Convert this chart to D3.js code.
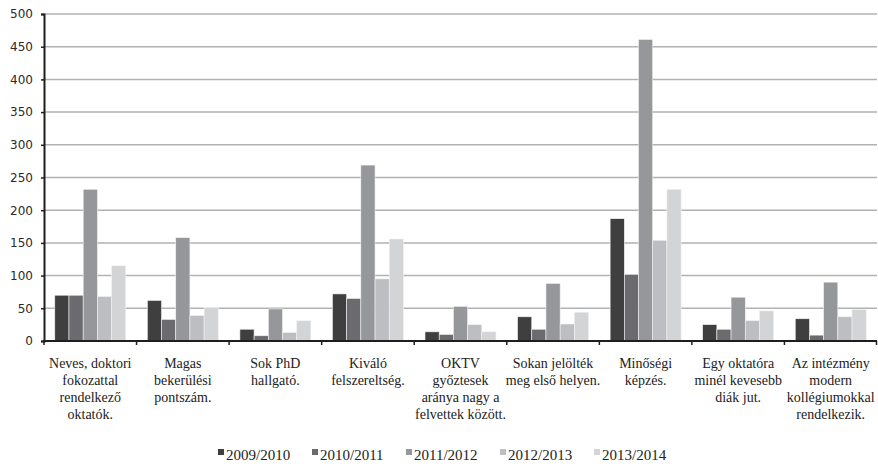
<!DOCTYPE html>
<html>
<head>
<meta charset="utf-8">
<script src="https://cdn.jsdelivr.net/npm/d3@7"></script>
<style>
  body { margin: 0; background: #fff; }
  svg { display: block; }
</style>
</head>
<body>
<div id="chart"></div>
<script>
// categories (multi-line labels as in the original)
const categories = [
    ["Neves, doktori", "fokozattal", "rendelkező", "oktatók."],
    ["Magas", "bekerülési", "pontszám."],
    ["Sok PhD", "hallgató."],
    ["Kiváló", "felszereltség."],
    ["OKTV", "győztesek", "aránya nagy a", "felvettek között."],
    ["Sokan jelölték", "meg első helyen."],
    ["Minőségi", "képzés."],
    ["Egy oktatóra", "minél kevesebb", "diák jut."],
    ["Az intézmény", "modern", "kollégiumokkal", "rendelkezik."]
];
const seriesNames = ["2009/2010", "2010/2011", "2011/2012", "2012/2013", "2013/2014"];
const seriesColors = ["#3f3f40", "#6b6b6f", "#96979b", "#bdbec2", "#d3d4d6"];

const v2009 = [70, 62, 18, 72, 14, 37, 187, 25, 34];
const v2010 = [70, 33, 8, 65, 10, 18, 102, 18, 9];
const v2011 = [232, 158, 49, 269, 53, 88, 461, 67, 90];
const v2012 = [68, 39, 13, 95, 25, 26, 154, 31, 37];
const v2013 = [115, 51, 31, 156, 14, 44, 232, 46, 48];
const allSeries = [v2009, v2010, v2011, v2012, v2013];

const yTicks = [0, 50, 100, 150, 200, 250, 300, 350, 400, 450, 500];

const width = 878, height = 464;
const margin = {top: 14, right: 1, bottom: 123, left: 44};

const svg = d3.select("#chart")
    .append("svg")
    .attr("width", width)
    .attr("height", height);

const catIdx = d3.range(categories.length);

const x0 = d3.scaleBand()
    .domain(catIdx)
    .range([margin.left, width - margin.right])
    .padding(0);

const x1 = d3.scaleBand()
    .domain(d3.range(seriesNames.length))
    .range([0, x0.bandwidth()])
    .paddingInner(0)
    .paddingOuter(0.76);

const y = d3.scaleLinear()
    .domain([0, 500])
    .range([height - margin.bottom, margin.top]);

// gridlines
svg.append("g")
    .attr("class", "grid")
    .selectAll("line")
    .data(yTicks.filter(d => d > 0))
    .enter().append("line")
    .attr("x1", margin.left)
    .attr("x2", width - margin.right)
    .attr("y1", d => y(d))
    .attr("y2", d => y(d))
    .style("stroke", "#b2b2b2")
    .style("stroke-width", 1.5);

// bars
const groups = svg.append("g")
    .attr("class", "bars")
    .selectAll("g")
    .data(catIdx)
    .enter().append("g")
    .attr("transform", i => "translate(" + x0(i) + ",0)");

groups.selectAll("rect")
    .data(i => allSeries.map((s, k) => ({k: k, value: s[i]})))
    .enter().append("rect")
    .attr("x", d => x1(d.k))
    .attr("width", x1.bandwidth())
    .attr("y", d => y(d.value))
    .attr("height", d => y(0) - y(d.value))
    .style("fill", d => seriesColors[d.k])
    .style("stroke", "#f2f2f2")
    .style("stroke-width", 0.6);

// y axis
const yAxis = svg.append("g")
    .attr("transform", "translate(" + margin.left + ",0)")
    .call(d3.axisLeft(y).tickValues(yTicks).tickSize(3).tickPadding(8));
yAxis.select(".domain").style("stroke", "#1e1e1e").style("stroke-width", 2);
yAxis.selectAll(".tick line").style("stroke", "#1e1e1e").style("stroke-width", 1.5);
yAxis.selectAll(".tick text")
    .style("font-family", "'DejaVu Sans', sans-serif")
    .style("font-size", "12px")
    .style("fill", "#2a2a2a");

// x axis: line with ticks at category boundaries
const xAxis = svg.append("g").attr("class", "x-axis");
xAxis.append("line")
    .attr("x1", margin.left - 1)
    .attr("x2", width - margin.right)
    .attr("y1", y(0))
    .attr("y2", y(0))
    .style("stroke", "#1e1e1e")
    .style("stroke-width", 2);
xAxis.selectAll("line.tick")
    .data(catIdx.concat([categories.length]))
    .enter().append("line")
    .attr("class", "tick")
    .attr("x1", i => i < categories.length ? x0(i) : x0.range()[1] - 0.5)
    .attr("x2", i => i < categories.length ? x0(i) : x0.range()[1] - 0.5)
    .attr("y1", y(0))
    .attr("y2", y(0) + 4)
    .style("stroke", "#1e1e1e")
    .style("stroke-width", 1.5);

// category labels
const labels = svg.append("g")
    .attr("class", "labels")
    .selectAll("text")
    .data(catIdx)
    .enter().append("text")
    .attr("text-anchor", "middle")
    .style("font-family", "'Liberation Serif', 'DejaVu Serif', serif")
    .style("font-size", "14px")
    .style("fill", "#222");

labels.selectAll("tspan")
    .data(i => categories[i].map(t => ({i: i, t: t})))
    .enter().append("tspan")
    .attr("x", d => x0(d.i) + x0.bandwidth() / 2)
    .attr("y", (d, j) => 368 + j * 17)
    .text(d => d.t);

// legend
const legend = svg.append("g")
    .attr("class", "legend")
    .attr("transform", "translate(218,0)")
    .selectAll("g")
    .data(seriesNames)
    .enter().append("g")
    .attr("transform", (d, k) => "translate(" + (k * 94) + ",0)");

legend.append("rect")
    .attr("x", 0)
    .attr("y", 449)
    .attr("width", 6)
    .attr("height", 6)
    .style("fill", (d, k) => seriesColors[k]);

legend.append("text")
    .attr("x", 8)
    .attr("y", 460)
    .style("font-family", "'Liberation Serif', 'DejaVu Serif', serif")
    .style("font-size", "15px")
    .style("fill", "#222")
    .text(d => d);
</script>
</body>
</html>
